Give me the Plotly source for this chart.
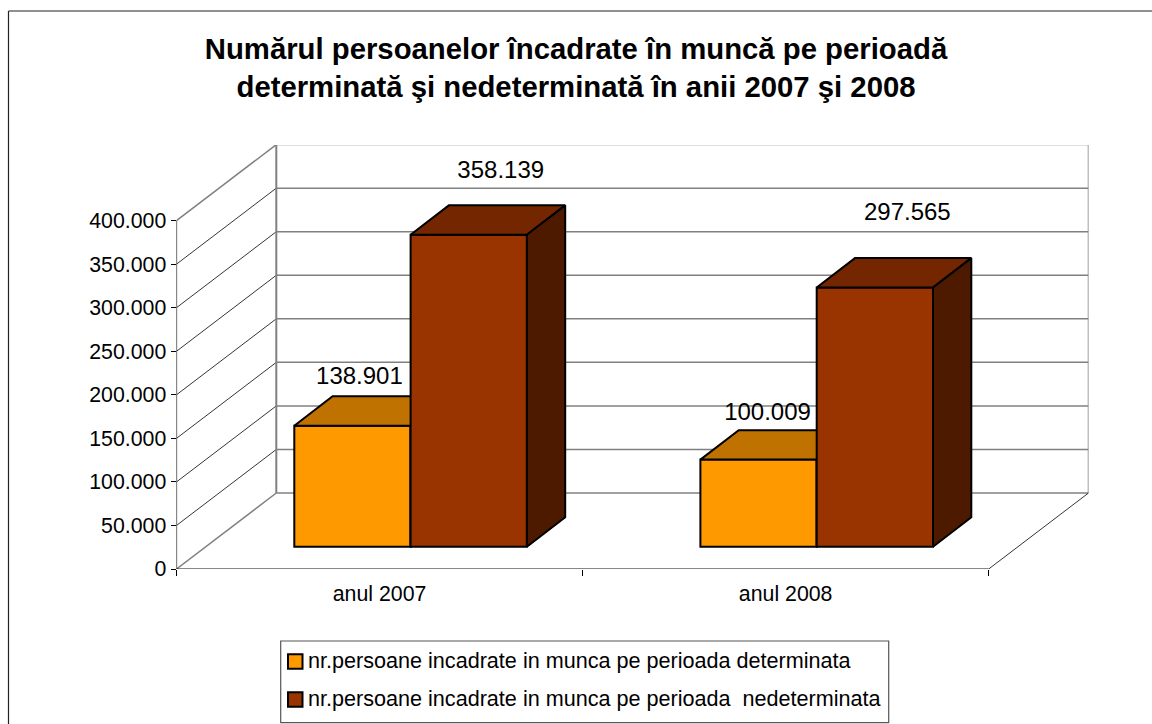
import plotly.graph_objects as go

categories = ["anul 2007", "anul 2008"]
determinata = [138901, 100009]
nedeterminata = [358139, 297565]
det_labels = ["138.901", "100.009"]
nedet_labels = ["358.139", "297.565"]
y_ticks = [0, 50000, 100000, 150000, 200000, 250000, 300000, 350000, 400000]
y_tick_labels = ["0", "50.000", "100.000", "150.000", "200.000", "250.000", "300.000", "350.000", "400.000"]
name_det = "nr.persoane incadrate in munca pe perioada determinata"
name_nedet = "nr.persoane incadrate in munca pe perioada\u00a0 nedeterminata"
title = ("<b>Numărul persoanelor încadrate în muncă pe perioadă<br>"
         "determinată şi nedeterminată în anii 2007 şi 2008</b>")

W, H = 1152, 724
# Plot-box placement in pixels
PX_L, PX_R, PX_T, PX_B = 176.5, 1088.5, 145.0, 569.0
CAT_PX = 406.1
VAL_PX = 348.4 / 400000
X_MAX = (PX_R - PX_L) / CAT_PX
Y_MAX = (PX_B - PX_T) / VAL_PX
# Wall depth, bar depth, floor gap (axis units)
WALL_DX, WALL_DY = 99.8 / CAT_PX, 76.0 / VAL_PX
BAR_DX, BAR_DY = 38.3 / CAT_PX, 29.4 / VAL_PX
FLOOR = 22.3 / VAL_PX
BAR_W = 116.3 / CAT_PX
BAR_X0 = 117.8 / CAT_PX

# Label offsets from the bar's front-top centre (axis units)
det_off = [(7 / CAT_PX, 48 / VAL_PX), (9 / CAT_PX, 45.5 / VAL_PX)]
nedet_off = [(32 / CAT_PX, 63 / VAL_PX), (32.5 / CAT_PX, 73.5 / VAL_PX)]

FONT = "Liberation Sans"
GREY = "#808080"
BLACK = "#000000"
EDGE = 2


def seg(x0, y0, x1, y1, color, width):
    return dict(type="line", xref="x", yref="y", x0=x0, y0=y0, x1=x1, y1=y1,
                line=dict(color=color, width=width), layer="below")


fig = go.Figure()


def add_series(values, labels, offs, slot, color, top, side, name, xa, ya):
    lefts = [i + BAR_X0 + slot * BAR_W for i in range(len(values))]
    centers = [l + BAR_W / 2 for l in lefts]
    for l, v in zip(lefts, values):
        t = FLOOR + v
        r = l + BAR_W
        fig.add_trace(go.Scatter(
            x=[l, l + BAR_DX, r + BAR_DX, r, l], y=[t, t + BAR_DY, t + BAR_DY, t, t],
            mode="lines", fill="toself", fillcolor=top, line=dict(color=BLACK, width=EDGE),
            showlegend=False, hoverinfo="skip", xaxis=xa, yaxis=ya))
        fig.add_trace(go.Scatter(
            x=[r, r + BAR_DX, r + BAR_DX, r, r],
            y=[FLOOR, FLOOR + BAR_DY, t + BAR_DY, t, FLOOR],
            mode="lines", fill="toself", fillcolor=side, line=dict(color=BLACK, width=EDGE),
            showlegend=False, hoverinfo="skip", xaxis=xa, yaxis=ya))
    fig.add_trace(go.Bar(
        x=centers, y=values, base=FLOOR, width=BAR_W, name=name,
        marker=dict(color=color, line=dict(color=BLACK, width=EDGE)),
        showlegend=False, xaxis=xa, yaxis=ya))
    fig.add_trace(go.Scatter(
        x=[c + o[0] for c, o in zip(centers, offs)],
        y=[FLOOR + v + o[1] for v, o in zip(values, offs)],
        mode="text", text=labels, textposition="middle center",
        textfont=dict(family=FONT, size=24, color=BLACK),
        showlegend=False, hoverinfo="skip", xaxis="x2", yaxis="y2"))


add_series(determinata, det_labels, det_off, 0, "#FF9900", "#BF7200", "#7F4C00", name_det, "x", "y")
add_series(nedeterminata, nedet_labels, nedet_off, 1, "#993300", "#732600", "#4D1A00", name_nedet, "x2", "y2")

shapes = []
# Side and back walls
for v in y_ticks:
    edge = v in (y_ticks[0], y_ticks[-1])
    shapes.append(seg(0, v, WALL_DX, v + WALL_DY, GREY if edge else BLACK, 1.5 if edge else 0.8))
    shapes.append(seg(WALL_DX, v + WALL_DY, 2 + WALL_DX, v + WALL_DY, GREY, 1.5))
shapes.append(seg(WALL_DX, WALL_DY, WALL_DX, y_ticks[-1] + WALL_DY, GREY, 2))
shapes.append(seg(2 + WALL_DX, WALL_DY, 2 + WALL_DX, y_ticks[-1] + WALL_DY, GREY, 1.5))
# Floor and front axes
shapes.append(seg(2, 0, 2 + WALL_DX, WALL_DY, BLACK, 0.8))
shapes.append(seg(0, 0, 2, 0, "#111111", 1.2))
shapes.append(seg(0, 0, 0, y_ticks[-1], "#111111", 1.2))

# Outer chart frame
shapes.append(dict(type="line", xref="paper", yref="paper", x0=8.5 / W, x1=1, y0=1 - 11 / H, y1=1 - 11 / H,
                   line=dict(color="#222222", width=1.2)))
shapes.append(dict(type="line", xref="paper", yref="paper", x0=8.5 / W, x1=8.5 / W, y0=0, y1=1 - 11 / H,
                   line=dict(color="#222222", width=1.2)))

# Legend box, swatches and entries
shapes.append(dict(type="rect", xref="paper", yref="paper", x0=280.7 / W, x1=888.7 / W,
                   y0=1 - 722.7 / H, y1=1 - 641 / H, line=dict(color="#555555", width=1.2)))
annotations = []
for name, color, cy in ((name_det, "#FF9900", 661.5), (name_nedet, "#993300", 699.5)):
    shapes.append(dict(type="rect", xref="paper", yref="paper", x0=288 / W, x1=302.5 / W,
                       y0=1 - (cy + 7.2) / H, y1=1 - (cy - 7.2) / H, fillcolor=color,
                       line=dict(color=BLACK, width=EDGE)))
    annotations.append(dict(xref="paper", yref="paper", x=305.5 / W, y=1 - (cy - 1) / H, text=name,
                            showarrow=False, xanchor="left", yanchor="middle",
                            font=dict(family=FONT, size=21.6, color=BLACK)))

dom_x = [PX_L / W, PX_R / W]
dom_y = [1 - PX_B / H, 1 - PX_T / H]
fig.update_layout(
    template="none",
    width=W, height=H, autosize=False,
    margin=dict(l=0, r=0, t=0, b=0),
    paper_bgcolor="white", plot_bgcolor="white",
    barmode="overlay", showlegend=False,
    title=dict(text=title, x=0.5, xanchor="center", xref="paper", y=1 - 59 / H, yanchor="top",
               font=dict(family=FONT, size=29.3, color=BLACK)),
    shapes=shapes, annotations=annotations,
    xaxis=dict(domain=dom_x, range=[0, X_MAX], tickmode="array", tickvals=[0.5, 1.5], ticktext=categories,
               ticks="", showgrid=False, zeroline=False, showline=False, ticklabelstandoff=10, automargin=False,
               tickfont=dict(family=FONT, size=21.3, color=BLACK),
               minor=dict(tickmode="array", tickvals=[0, 1, 2], ticks="outside", ticklen=6, tickcolor=BLACK,
                          tickwidth=1, showgrid=False)),
    yaxis=dict(domain=dom_y, range=[0, Y_MAX], tickmode="array", tickvals=y_ticks, ticktext=y_tick_labels,
               ticks="outside", ticklen=5, tickcolor=BLACK, tickwidth=1, showgrid=False, zeroline=False,
               showline=False, automargin=False, tickfont=dict(family=FONT, size=21.3, color=BLACK)),
    xaxis2=dict(domain=dom_x, range=[0, X_MAX], overlaying="x", visible=False),
    yaxis2=dict(domain=dom_y, range=[0, Y_MAX], overlaying="y", visible=False, anchor="x2"),
)

fig.write_html(
    "out.html",
    config={"displayModeBar": False},
    post_script="document.documentElement.style.overflow='hidden';document.body.style.margin='0';"
                "document.body.style.overflow='hidden';window.scrollTo(0,0);",
)
